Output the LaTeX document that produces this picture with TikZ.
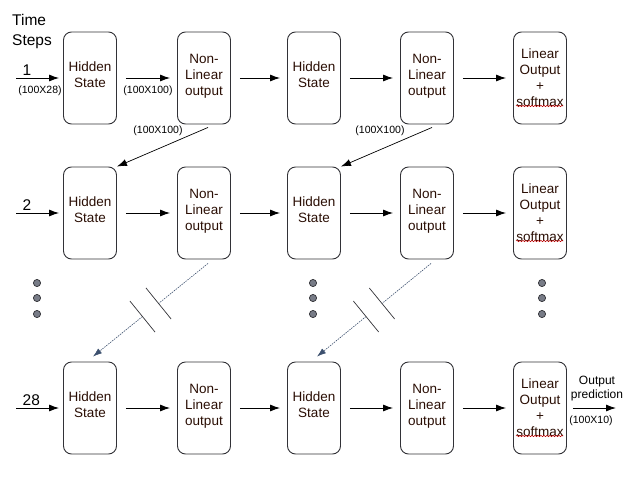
\documentclass[tikz,border=0pt]{standalone}
\usepackage{fontspec}
\setmainfont{Liberation Sans}
\usepackage{tikz}
\usetikzlibrary{arrows.meta,calc,decorations.pathmorphing}
\definecolor{boxline}{RGB}{50,50,55}
\definecolor{boxtext}{RGB}{42,14,4}
\definecolor{linkline}{RGB}{60,80,110}
\definecolor{dotfill}{RGB}{120,124,135}
% text of a cell, lifted a little above the centre
\newcommand{\liftcell}[1]{\raisebox{-2pt}[0pt][0pt]{\begin{tabular}{@{}c@{}}#1\end{tabular}}}

\begin{document}
\begin{tikzpicture}[x=1pt,y=-1pt,
    cell/.style={draw=boxline,line width=0.9pt,rounded corners=8pt,minimum width=53pt,
      minimum height=92pt,inner sep=0pt,align=center,text=boxtext,font=\fontsize{13.5}{16}\selectfont},
    flow/.style={-{Latex[length=10pt,width=7pt]},line width=0.9pt},
    link/.style={dash pattern=on 1.5pt off 1pt,draw=linkline,line width=0.6pt},
    cut/.style={draw=boxline,line width=0.7pt},
    size/.style={font=\fontsize{10.5}{12}\selectfont,inner sep=0pt},
    step label/.style={font=\fontsize{15.5}{20}\selectfont,inner sep=0pt},
    dot/.style={draw=boxline,fill=dotfill,line width=0.7pt}]
  \useasboundingbox (0,0) rectangle (635,480);
  %\draw[help lines,step=20] (0,0) grid (635,480);
  \node[step label,anchor=north west,align=left] (steps) at (12,14) {Time\\Steps};
  % three time-step rows
  \foreach \r/\y/\t in {1/78/1,2/213/2,3/408/28}{
    \node[cell] (hs\r a) at (90,\y) {\liftcell{Hidden\\State}};
    \node[cell] (nl\r a) at (204,\y) {\liftcell{Non-\\Linear\\output}};
    \node[cell] (hs\r b) at (314,\y) {\liftcell{Hidden\\State}};
    \node[cell] (nl\r b) at (427,\y) {\liftcell{Non-\\Linear\\output}};
    \node[cell] (lo\r) at (540,\y) {Linear\\Output\\+\\softmax};
    \draw[red!75!black,line width=0.5pt,decorate,decoration={snake,amplitude=0.7pt,segment length=3pt}]
      ([xshift=-24pt,yshift=-28pt]lo\r.center) -- ([xshift=23pt,yshift=-28pt]lo\r.center);
    \coordinate (in\r) at (16,\y);
    \node[step label,anchor=base west] (t\r) at (22.5,\y-3) {\t};
    \path[draw,flow,shorten >=4pt] (in\r) -- (hs\r a);
    \path[draw,flow,shorten <=9pt,shorten >=7pt] (hs\r a) -- (nl\r a);
    \path[draw,flow,shorten <=9pt,shorten >=7pt] (nl\r a) -- (hs\r b);
    \path[draw,flow,shorten <=9pt,shorten >=7pt] (hs\r b) -- (nl\r b);
    \path[draw,flow,shorten <=9pt,shorten >=7pt] (nl\r b) -- (lo\r);
  }
  \node[size] (szin) at (40,91) {(100X28)};
  \node[size] (szhid) at (148,91) {(100X100)};
  % row 1 feeds row 2
  \path[draw,flow,line width=0.7pt] ([xshift=4pt,yshift=-3pt]nl1a.south) -- (hs2a.north east);
  \path[draw,flow,line width=0.7pt] ([xshift=5pt,yshift=-3pt]nl1b.south) -- (hs2b.north east);
  \node[size] (szfa) at (158,131) {(100X100)};
  \node[size] (szfb) at (380,131) {(100X100)};
  % skipped steps
  \foreach \x in {37,313,542}
    \foreach \y in {283,298,314}
      \path[dot] (\x,\y) circle (3.6pt);
  \foreach \n/\m in {nl2a/hs3a,nl2b/hs3b}{
    \coordinate (s\n) at ([xshift=4pt,yshift=-4pt]\n.south);
    \coordinate (e\n) at ([xshift=3pt,yshift=5pt]\m.north);
    \coordinate (p\n) at ($(s\n)!0.43!(e\n)$);
    \coordinate (q\n) at ($(s\n)!0.57!(e\n)$);
    \path[link] (s\n) -- (p\n);
    \path[link,-{Latex[length=9pt,width=6pt]}] (q\n) -- (e\n);
    \path[cut] ($(p\n)!20pt!90:(e\n)$) -- ($(p\n)!20pt!-90:(e\n)$);
    \path[cut] ($(q\n)!20pt!90:(e\n)$) -- ($(q\n)!20pt!-90:(e\n)$);
  }
  % final output
  \coordinate (out) at (616,408);
  \path[draw,flow,shorten <=6pt] (lo3) -- (out);
  \node[font=\fontsize{12}{14}\selectfont,align=center,inner sep=0pt] (pred) at (597,389) {Output\\prediction};
  \node[size] (szout) at (591,421) {(100X10)};
\end{tikzpicture}
\end{document}
